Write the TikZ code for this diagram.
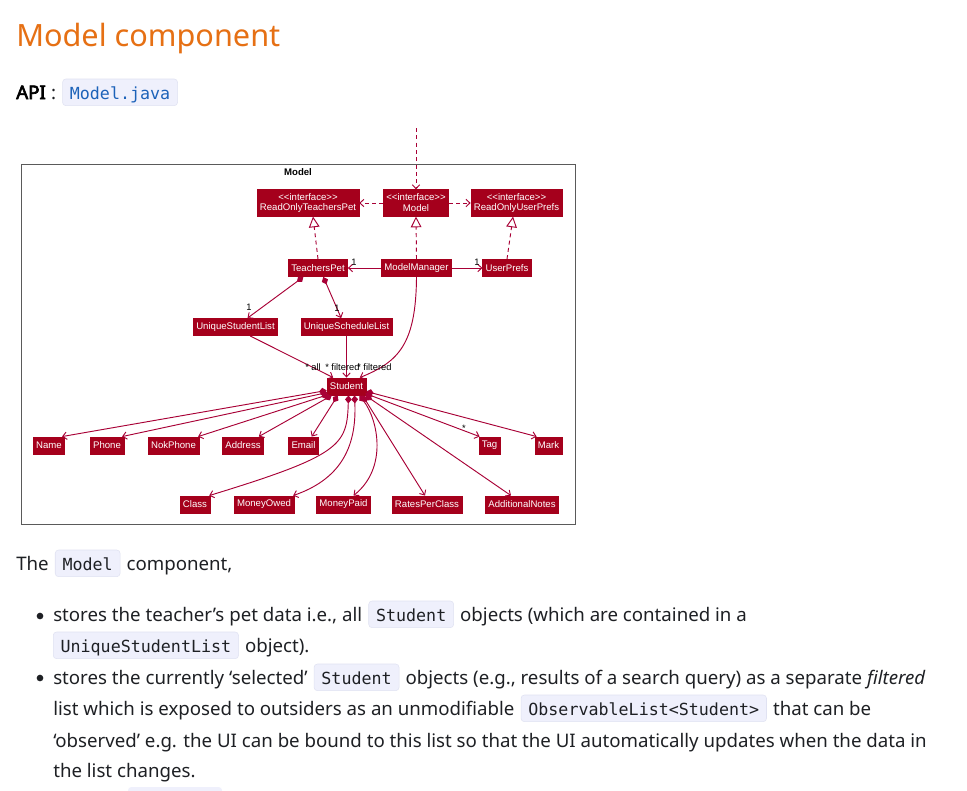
\documentclass[tikz,border=0pt]{standalone}
\usepackage{fontspec}
\setmainfont{Noto Sans}
\newfontfamily\apibold{Noto Sans}[FakeBold=3.5]
\newfontfamily\umlfont{Liberation Sans}
\newfontfamily\codefont{DejaVu Sans Mono}
\usetikzlibrary{arrows.meta, positioning}
\definecolor{umlred}{RGB}{165,0,28}
\definecolor{umlline}{RGB}{168,0,54}
\definecolor{headorange}{RGB}{230,112,20}
\definecolor{textdark}{RGB}{30,32,36}
\definecolor{codebg}{RGB}{239,240,252}
\definecolor{codeline}{RGB}{224,226,242}
\definecolor{codeblue}{RGB}{28,98,185}
\definecolor{pkggray}{RGB}{90,90,90}
\newcommand\stereoL{<\kern0pt<}
\newcommand\stereoR{>\kern0pt>}

\begin{document}
\begin{tikzpicture}[x=0.75pt, y=-0.75pt,
				node distance=4.5pt,
				umlbox/.style={draw=umlred, fill=umlred, text=white, font=\umlfont\fontsize{7.2}{8.2}\selectfont, inner xsep=2.2pt, inner ysep=0pt, minimum height=13pt},
				iface/.style={umlbox, align=center, minimum height=20pt},
				dep/.style={umlline, line width=0.7pt, dash pattern=on 3pt off 2.5pt, -{Straight Barb[length=3pt,width=5.5pt]}},
				real/.style={umlline, line width=0.7pt, dash pattern=on 3pt off 2.5pt, -{Triangle[open,fill=white,length=8pt,width=8pt]}},
				assoc/.style={umlline, line width=0.7pt, -{Straight Barb[length=3pt,width=5.5pt]}},
				comp/.style={umlline, line width=0.7pt, {Diamond[length=6pt,width=5pt]}-{Straight Barb[length=3pt,width=5.5pt]}},
				mult/.style={font=\umlfont\fontsize{7}{8}\selectfont, text=black, inner sep=0pt},
				body/.style={anchor=base west, inner sep=0pt, text=textdark, font=\fontsize{14}{17}\selectfont},
				codebox/.style={anchor=base west, draw=codeline, fill=codebg, rounded corners=2.5pt, text=textdark, font=\codefont\fontsize{12.5}{15}\selectfont, inner xsep=5.5pt, inner ysep=3.5pt, text height=11.5pt, text depth=1.5pt},
				dot/.style={circle, fill=textdark, inner sep=0pt, minimum size=5pt}
			]
			\useasboundingbox (0,0) rectangle (967,790);
			\fill[white] (0,0) rectangle (967,790);

			% heading and api line
			\node[body, text=headorange, font=\fontsize{23}{27}\selectfont] (title) at (16,46) {Model component};
			\node[body, text=black, font=\apibold\fontsize{14}{17}\selectfont] (api) at (16,99) {API};
			\node[body, base right=3.5pt of api] (colon) {:};
			\node[codebox, text=codeblue, base right=of colon] (apifile) {Model.java};

			% the diagram
			\draw[pkggray, line width=0.7pt] (21,164) rectangle (575,524);
			\node[mult, font=\umlfont\fontsize{7.2}{8}\selectfont\bfseries] (pkgname) at (298,172) {Model};

			\node[iface] (rotp) at (308,203) {\stereoL interface\stereoR\\ReadOnlyTeachersPet};
			\node[iface] (model) at (416,203) {\stereoL interface\stereoR\\Model};
			\node[iface] (roup) at (516.5,203) {\stereoL interface\stereoR\\ReadOnlyUserPrefs};

			\node[umlbox] (tp) at (318,268) {TeachersPet};
			\node[umlbox] (mm) at (416.5,268) {ModelManager};
			\node[umlbox] (up) at (507,268) {UserPrefs};

			\node[umlbox] (usl) at (235.5,327) {UniqueStudentList};
			\node[umlbox] (usch) at (346.5,327) {UniqueScheduleList};

			\node[umlbox] (student) at (346.5,386.5) {Student};

			\node[umlbox] (name) at (49,445.5) {Name};
			\node[umlbox] (phone) at (107,445.5) {Phone};
			\node[umlbox] (nok) at (173.5,445.5) {NokPhone};
			\node[umlbox] (addr) at (243,445.5) {Address};
			\node[umlbox] (email) at (303.5,445.5) {Email};
			\node[umlbox] (tag) at (489.5,445.5) {Tag};
			\node[umlbox] (mark) at (548.5,445.5) {Mark};

			\node[umlbox] (class) at (195,504.5) {Class};
			\node[umlbox] (owed) at (264,504.5) {MoneyOwed};
			\node[umlbox] (paid) at (343.5,504.5) {MoneyPaid};
			\node[umlbox] (rates) at (427,504.5) {RatesPerClass};
			\node[umlbox] (notes) at (522,504.5) {AdditionalNotes};

			\coordinate (outside) at (416,128);
			\draw[dep] (outside) -- (model.north);
			\draw[dep] (model.west) -- (rotp.east);
			\draw[dep] (model.east) -- (roup.west);

			\draw[real] (tp.north) -- ([xshift=3.75pt]rotp.south);
			\draw[real] (mm.north) -- (model.south);
			\draw[real] (up.north) -- ([xshift=-2.6pt]roup.south);

			\draw[assoc] (mm.west) -- (tp.east);
			\draw[assoc] (mm.east) -- (up.west);
			\node[mult] (m1) at (354,262) {1};
			\node[mult] (m2) at (477,262) {1};

			\draw[comp] ([xshift=-11pt]tp.south) -- ([xshift=9pt]usl.north);
			\draw[comp] ([xshift=4pt]tp.south) -- ([xshift=-4pt]usch.north);
			\node[mult] (m3) at (249,307) {1};
			\node[mult] (m4) at (337,308) {1};

			\draw[assoc] ([xshift=11pt]usl.south) -- ([xshift=-10pt]student.north);
			\draw[assoc] (usch.south) -- (student.north);
			\draw[assoc] (mm.south) .. controls (416,345) and (398,362) .. ([xshift=10pt]student.north);
			\node[mult, anchor=west] (m5) at (305,367) {* all};
			\node[mult, anchor=west] (m6) at (325,367) {* filtered};
			\node[mult, anchor=west] (m7) at (357,367) {* filtered};

			% student attributes
			\draw[comp] ([shift={(0,-5)}]student.south west) -- ([shift={(-3,0)}]name.north east);
			\draw[comp] ([shift={(1,-3)}]student.south west) -- ([shift={(-2,0)}]phone.north east);
			\draw[comp] ([shift={(2,-1)}]student.south west) -- ([shift={(-1,0)}]nok.north east);
			\draw[comp] ([shift={(5,0)}]student.south west) -- ([shift={(-5,0)}]addr.north east);
			\draw[comp] ([shift={(11,0)}]student.south west) -- ([shift={(-7,0)}]email.north east);
			\draw[comp] ([shift={(-1,-2)}]student.south east) -- ([shift={(1,0)}]tag.north west);
			\draw[comp] ([shift={(0,-4)}]student.south east) -- ([shift={(2,0)}]mark.north west);
			\node[mult] (m8) at (464,428) {*};

			\draw[comp] ([shift={(2,0)}]student.south) .. controls (347,445) and (342,455) .. ([shift={(-1,0)}]class.north east);
			\draw[comp] ([shift={(8,0)}]student.south) .. controls (357,450) and (338,480) .. ([shift={(-1,0)}]owed.north east);
			\draw[comp] ([shift={(13,0)}]student.south) .. controls (378,420) and (388,468) .. ([shift={(10,0)}]paid.north);
			\draw[comp] ([shift={(16,0)}]student.south) -- ([shift={(-2,0)}]rates.north);
			\draw[comp] ([shift={(19,0)}]student.south) -- ([shift={(-11,0)}]notes.north);

			% text under the diagram
			\node[body] (the) at (16,570) {The};
			\node[codebox, base right=of the] (cmodel) {Model};
			\node[body, base right=of cmodel] (comp) {component,};

			\node[dot] (b1) at (40,616) {};
			\node[body] (l1a) at (53,621) {stores the teacher’s pet data i.e., all};
			\node[codebox, base right=of l1a] (l1b) {Student};
			\node[body, base right=of l1b] (l1c) {objects (which are contained in a};
			\node[codebox] (l2a) at (53,652) {UniqueStudentList};
			\node[body, base right=of l2a] (l2b) {object).};

			\node[dot] (b2) at (40,678) {};
			\node[body] (l3a) at (53,684) {stores the currently ‘selected’};
			\node[codebox, base right=of l3a] (l3b) {Student};
			\node[body, base right=of l3b] (l3c) {objects (e.g., results of a search query) as a separate \textit{filtered}};
			\node[body] (l4a) at (53,715) {list which is exposed to outsiders as an unmodifiable};
			\node[codebox, base right=of l4a] (l4b) {ObservableList<Student>};
			\node[body, base right=of l4b] (l4c) {that can be};
			\node[body] (l5) at (53,747) {‘observed’ e.g. the UI can be bound to this list so that the UI automatically updates when the data in};
			\node[body] (l6) at (53,777) {the list changes.};
			\fill[codebg, rounded corners=2.5pt] (128,787) rectangle (222,800);
		\end{tikzpicture}
\end{document}
